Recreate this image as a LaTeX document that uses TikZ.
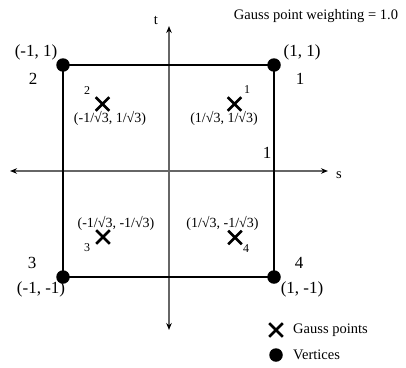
\documentclass[tikz,border=0pt]{standalone}
\usepackage{fontspec}
\setmainfont{Liberation Serif}
\usetikzlibrary{arrows.meta,shapes.misc}
\begin{document}
\begin{tikzpicture}[x=1pt,y=-1pt,
  lbl/.style={inner sep=0pt,font=\fontsize{14.5}{16}\selectfont},
  big/.style={inner sep=0pt,font=\fontsize{17}{18}\selectfont},
  gl/.style={inner sep=0pt,font=\fontsize{14}{16}\selectfont},
  tiny/.style={inner sep=0pt,font=\fontsize{12}{13}\selectfont},
  vertex/.style={circle,fill=black,inner sep=0pt,minimum size=13.5pt},
  gpt/.style={cross out,draw=black,line width=2.6pt,inner sep=0pt,minimum size=11pt},
  axis/.style={draw=black!60,line width=1.2pt,{Stealth[length=7pt,width=5.5pt,black]}-{Stealth[length=7pt,width=5.5pt,black]}},
  edge/.style={draw=black,line width=2pt}]
\useasboundingbox (0,0) rectangle (406,367);
% axes
\coordinate (tTop) at (169,26);
\coordinate (tBot) at (169,330);
\coordinate (sL) at (10,171);
\coordinate (sR) at (328,171);
\draw[axis] (tBot) -- (tTop);
\draw[axis] (sL) -- (sR);
% vertices
\node[vertex] (v1) at (274,65) {};
\node[vertex] (v2) at (63,65) {};
\node[vertex] (v3) at (63,277) {};
\node[vertex] (v4) at (274,277) {};
\draw[edge] (v1.center) -- (v2.center) -- (v3.center) -- (v4.center) -- cycle;
% gauss points
\node[gpt] (g1) at (234.5,104) {};
\node[gpt] (g2) at (102.5,104) {};
\node[gpt] (g3) at (103,237) {};
\node[gpt] (g4) at (235,237.5) {};
% labels
\node[lbl] (tl) at (156,20) {t};
\node[lbl] (sl) at (339,175) {s};
\node[lbl] (wt) at (316,16) {Gauss point weighting = 1.0};
\node[big] (c2) at (36,52) {(-1, 1)};
\node[big] (c1) at (302,52) {(1, 1)};
\node[big] (n2) at (33,79) {2};
\node[big] (n1) at (300,79) {1};
\node[big] (n3) at (32,263) {3};
\node[big] (n4) at (299,263) {4};
\node[big] (c3) at (41,289) {(-1, -1)};
\node[big] (c4) at (302,289) {(1, -1)};
\node[big] (e1) at (267,153) {1};
\node[gl] (p2) at (110,118.5) {(-1/\char"221A 3, 1/\char"221A 3)};
\node[gl] (p1) at (224,118.5) {(1/\char"221A 3, 1/\char"221A 3)};
\node[gl] (p3) at (116,223) {(-1/\char"221A 3, -1/\char"221A 3)};
\node[gl] (p4) at (222.5,223) {(1/\char"221A 3, -1/\char"221A 3)};
\node[tiny] (k2) at (87,91) {2};
\node[tiny] (k1) at (247,90) {1};
\node[tiny] (k3) at (87,248) {3};
\node[tiny] (k4) at (246,249) {4};
% legend
\node[gpt] (lg) at (276,330) {};
\node[lbl,anchor=west] (lgt) at (293,330) {Gauss points};
\node[vertex] (lv) at (276,355) {};
\node[lbl,anchor=west] (lvt) at (293,355) {Vertices};
\end{tikzpicture}
\end{document}
